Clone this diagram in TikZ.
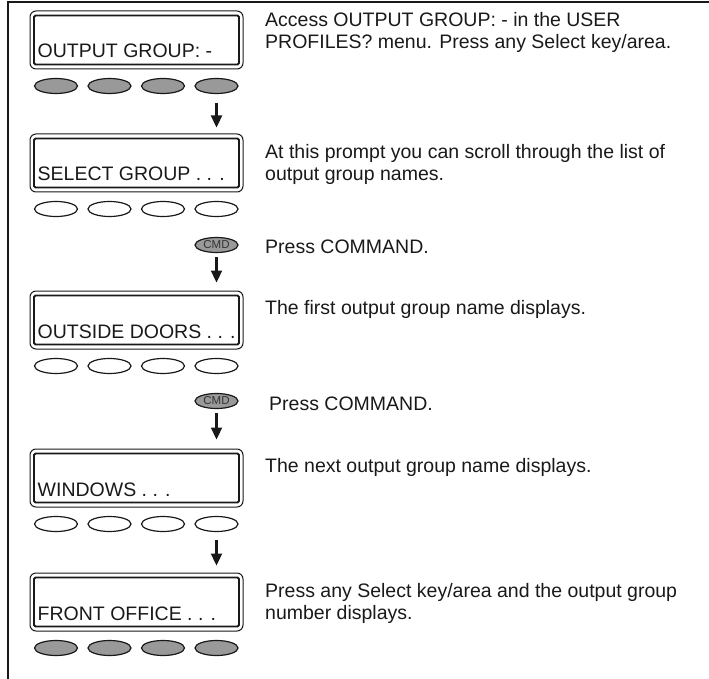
\documentclass[tikz,border=0pt]{standalone}
\usepackage{fontspec}
\setmainfont{Liberation Sans}
\usetikzlibrary{arrows.meta, shapes.geometric}

\tikzset{
  screen/.style={draw, rounded corners=6pt, line width=1pt, minimum width=213pt, minimum height=58pt, inner sep=0pt},
  glass/.style={rounded corners=1.5pt, line width=1.8pt},
  lcd/.style={anchor=base west, inner sep=0pt, font=\fontsize{19.5}{22}\selectfont},
  key/.style={ellipse, draw, line width=1.2pt, minimum width=43pt, minimum height=15pt, inner sep=0pt},
  pressed/.style={key, fill=black!40},
  cmd/.style={pressed, font=\fontsize{11.5}{11.5}\selectfont, text=black!80},
  note/.style={anchor=base west, inner sep=0pt, align=left, font=\fontsize{19.5}{22}\selectfont},
  flow/.style={-{Triangle[length=12pt,width=11pt]}, line width=2.3pt},
}

\begin{document}
\begin{tikzpicture}[x=1pt, y=-1pt, color=black!90]
  \useasboundingbox (0,0) rectangle (709,679);
  \draw[line width=1.4pt] (709,2) -- (8,2) -- (8,679);

  % displays
  \node[screen] (d1) at (136.5,40) {};
  \node[screen] (d2) at (136.5,163) {};
  \node[screen] (d3) at (136.5,320) {};
  \node[screen] (d4) at (136.5,478) {};
  \node[screen] (d5) at (136.5,602) {};
  \foreach \d in {1,...,5}
    \draw[glass] ([xshift=4.5pt,yshift=-5pt]d\d.north west) rectangle ([xshift=-4.5pt,yshift=5pt]d\d.south east);

  \node[lcd] (t1) at (37.5,58) {OUTPUT GROUP: -};
  \node[lcd] (t2) at (37.5,181) {SELECT GROUP . . .};
  \node[lcd] (t3) at (37.5,338) {OUTSIDE DOORS . . .};
  \node[lcd] (t4) at (37.5,496) {WINDOWS . . .};
  \node[lcd] (t5) at (37.5,620) {FRONT OFFICE . . .};

  % keys
  \foreach \x [count=\i] in {56,109.5,163,216.5} {
    \node[pressed] (k1\i) at (\x,86) {};
    \node[key] (k2\i) at (\x,209) {};
    \node[key] (k3\i) at (\x,366) {};
    \node[key] (k4\i) at (\x,524) {};
    \node[pressed] (k5\i) at (\x,648) {};
  }
  \node[cmd] (c2) at (216.5,245) {CMD};
  \node[cmd] (c3) at (216.5,401) {CMD};

  \draw[flow, shorten <=9pt, shorten >=6pt] (k14.south) -- (k14.south |- d2.north);
  \draw[flow, shorten <=4pt, shorten >=8pt] (c2.south) -- (c2.south |- d3.north);
  \draw[flow, shorten <=4pt, shorten >=9pt] (c3.south) -- (c3.south |- d4.north);
  \draw[flow, shorten <=8pt, shorten >=7pt] (k44.south) -- (k44.south |- d5.north);

  % steps (base = last line)
  \node[note] (n1) at (265,49) {Access OUTPUT GROUP: - in the USER\\PROFILES? menu. Press any Select key/area.};
  \node[note] (n2) at (265,181) {At this prompt you can scroll through the list of\\output group names.};
  \node[note] (n3) at (265,253) {Press COMMAND.};
  \node[note] (n4) at (265,314) {The first output group name displays.};
  \node[note] (n5) at (269,410) {Press COMMAND.};
  \node[note] (n6) at (265,472) {The next output group name displays.};
  \node[note] (n7) at (265,619) {Press any Select key/area and the output group\\number displays.};
\end{tikzpicture}
\end{document}
